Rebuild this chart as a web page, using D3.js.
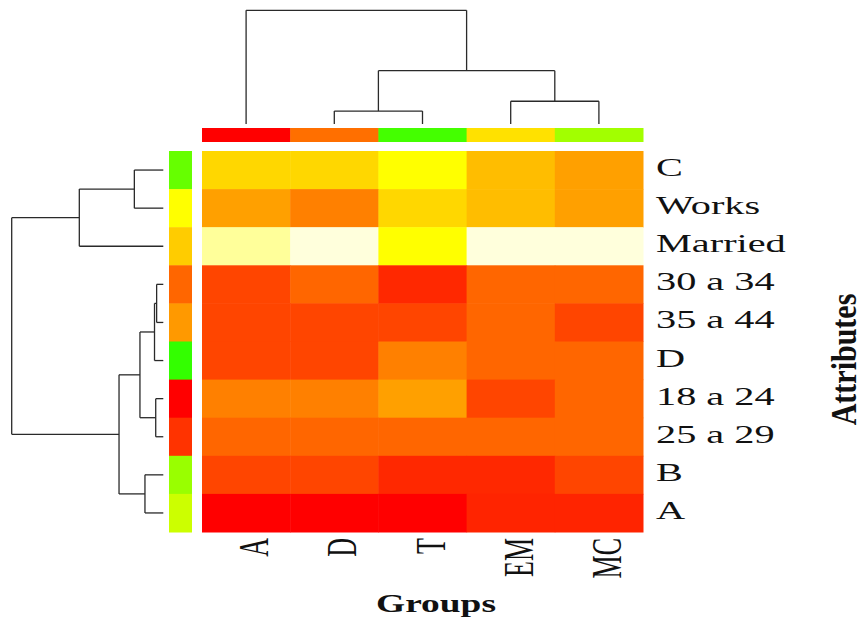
<!DOCTYPE html>
<html>
<head>
<meta charset="utf-8">
<script src="https://cdn.jsdelivr.net/npm/d3@7"></script>
<style>
  body { margin: 0; background: #fff; }
  text { font-family: "Liberation Serif", "Times New Roman", serif; fill: #111; }
</style>
</head>
<body>
<div id="plot"></div>
<script>
const groups = ["A", "D", "T", "EM", "MC"];
const attributes = ["C", "Works", "Married", "30 a 34", "35 a 44", "D", "18 a 24", "25 a 29", "B", "A"];

// heat level of each cell: 0 = red, 70 = yellow, 100 = pale cream (rows follow attributes)
const levels = [
  [59, 59, 70, 52, 44],
  [44, 35, 59, 52, 44],
  [91, 100, 70, 100, 100],
  [19, 28, 11, 28, 28],
  [19, 19, 19, 28, 19],
  [19, 19, 35, 28, 28],
  [35, 35, 44, 19, 28],
  [28, 28, 28, 28, 28],
  [19, 19, 11, 11, 19],
  [0, 0, 0, 10, 10]
];

// hue of the side colour bars
const groupSideHue = [0, 26, 104, 53, 82];
const attrSideHue = [96, 60, 48, 24, 36, 108, 0, 12, 84, 72];

// dendrograms: leaf = index into groups / attributes, h = merge height
const groupTree = {h: 10, children: [
  {leaf: 0},
  {h: 4.69, children: [
    {h: 1.14, children: [{leaf: 1}, {leaf: 2}]},
    {h: 2.0, children: [{leaf: 3}, {leaf: 4}]}
  ]}
]};
const attrTree = {h: 10, children: [
  {h: 5.54, children: [
    {h: 1.91, children: [{leaf: 0}, {leaf: 1}]},
    {leaf: 2}
  ]},
  {h: 2.92, children: [
    {h: 1.54, children: [
      {h: 0.58, children: [
        {h: 0.44, children: [{leaf: 3}, {leaf: 4}]},
        {leaf: 5}
      ]},
      {h: 0.50, children: [{leaf: 6}, {leaf: 7}]}
    ]},
    {h: 1.21, children: [{leaf: 8}, {leaf: 9}]}
  ]}
]};

const width = 864, height = 621;
const lineCol = "#2a2a2a";

const svg = d3.select("#plot").append("svg")
  .attr("width", width)
  .attr("height", height);

const x = d3.scaleBand().domain(d3.range(groups.length)).range([202, 643]);
const y = d3.scaleBand().domain(d3.range(attributes.length)).range([151, 532]);
const color = d3.scaleLinear().domain([0, 70, 100]).range(["#ff0000", "#ffff00", "#ffffdc"]);

// cells
const cells = levels.flatMap((row, i) => row.map((v, j) => ({i, j, v})));
svg.append("g").selectAll("rect")
  .data(cells)
  .join("rect")
  .attr("x", d => x(d.j))
  .attr("y", d => y(d.i))
  .attr("width", x.bandwidth() + 0.5)
  .attr("height", y.bandwidth() + 0.5)
  .attr("fill", d => color(d.v));

// side bars
svg.append("g").selectAll("rect")
  .data(groupSideHue)
  .join("rect")
  .attr("x", (d, j) => x(j))
  .attr("y", 128)
  .attr("width", x.bandwidth() + 0.5)
  .attr("height", 14)
  .attr("fill", d => d3.hsl(d, 1, 0.5));

svg.append("g").selectAll("rect")
  .data(attrSideHue)
  .join("rect")
  .attr("x", 169)
  .attr("y", (d, i) => y(i))
  .attr("width", 23)
  .attr("height", y.bandwidth() + 0.5)
  .attr("fill", d => d3.hsl(d, 1, 0.5));

// dendrogram segments: pos along the leaves, h along the height axis
function dendroSegments(tree, band) {
  const root = d3.hierarchy(tree);
  root.eachAfter(n => {
    if (!n.children) { n.pos = band(n.data.leaf) + band.bandwidth() / 2; n.h = 0; }
    else { n.pos = d3.mean(n.children, c => c.pos); n.h = n.data.h; }
  });
  const segs = [];
  root.each(n => {
    if (!n.children) return;
    const [a, b] = n.children;
    segs.push({p1: a.pos, p2: b.pos, h1: n.h, h2: n.h});
    n.children.forEach(c => segs.push({p1: c.pos, p2: c.pos, h1: c.h, h2: n.h}));
  });
  return segs;
}

const hTop = d3.scaleLinear().domain([0, 10]).range([124, 10.3]);
svg.append("g").selectAll("line")
  .data(dendroSegments(groupTree, x))
  .join("line")
  .attr("x1", d => d.p1).attr("x2", d => d.p2)
  .attr("y1", d => hTop(d.h1)).attr("y2", d => hTop(d.h2))
  .attr("stroke", lineCol).attr("stroke-width", 1.3);

const hLeft = d3.scaleLinear().domain([0, 10]).range([163.3, 11.7]);
svg.append("g").selectAll("line")
  .data(dendroSegments(attrTree, y))
  .join("line")
  .attr("y1", d => d.p1).attr("y2", d => d.p2)
  .attr("x1", d => hLeft(d.h1)).attr("x2", d => hLeft(d.h2))
  .attr("stroke", lineCol).attr("stroke-width", 1.3);

// labels (the original picture is stretched sideways, hence the x scale)
svg.append("g").selectAll("text")
  .data(attributes)
  .join("text")
  .attr("transform", (d, i) => `translate(656,${y(i) + y.bandwidth() / 2 + 6}) scale(1.55,1)`)
  .style("font-size", "26px")
  .text(d => d);

svg.append("g").selectAll("text")
  .data(groups)
  .join("text")
  .attr("transform", (d, j) => `translate(${x(j) + x.bandwidth() / 2},538) scale(1.63,1) rotate(-90)`)
  .attr("text-anchor", "end")
  .attr("dy", "0.52em")
  .style("font-size", "26px")
  .text(d => d);

svg.append("text")
  .attr("transform", "translate(436,611.5) scale(1.44,1)")
  .attr("text-anchor", "middle")
  .style("font-size", "26px")
  .style("font-weight", "bold")
  .text("Groups");

svg.append("text")
  .attr("transform", "translate(856,359.5) scale(1.2,1) rotate(-90)")
  .attr("text-anchor", "middle")
  .style("font-size", "30px")
  .style("font-weight", "bold")
  .text("Attributes");
</script>
</body>
</html>
